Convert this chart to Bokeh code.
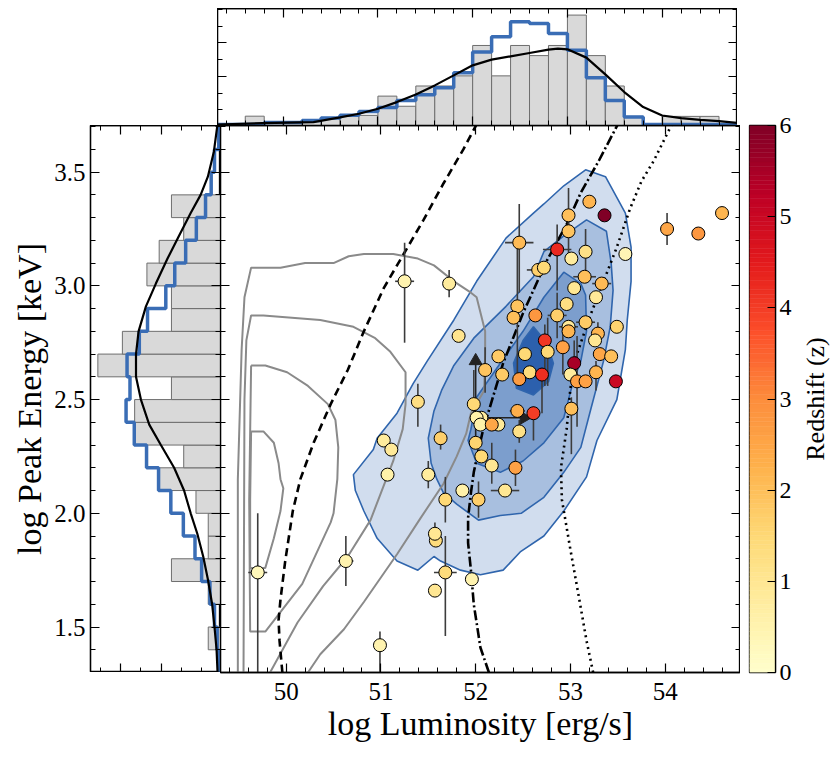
import numpy as np
from bokeh.plotting import figure
from bokeh.models import (Range1d, LinearAxis, FixedTicker, LinearColorMapper, Spacer,
                          ColumnDataSource, PrintfTickFormatter)
from bokeh.layouts import row, column
from bokeh.embed import file_html
from bokeh.resources import INLINE
from bokeh.palettes import YlOrRd9

FONT = "Liberation Serif"

# ---------------- scatter sample ----------------
lum = [49.70, 50.63, 50.99, 51.07, 51.50, 51.68, 51.58, 51.57, 51.68, 51.57,
       51.96, 51.86, 52.03, 52.31, 52.17, 52.42, 51.25, 51.72, 51.82, 51.39,
       51.03, 51.11, 51.63, 52.46, 52.98, 53.20, 53.36, 52.98, 52.86, 53.16,
       53.01, 53.58, 52.66, 52.72, 53.15, 53.33, 53.04, 53.27, 52.44, 52.96,
       52.40, 52.63, 52.86, 53.16, 53.49, 52.98, 52.98, 53.29, 53.26, 52.73,
       52.92, 52.76, 52.52, 52.24, 53.31, 53.43, 53.04, 52.10, 52.28, 52.57,
       52.70, 52.46, 53.00, 53.07, 53.16, 53.27, 53.48, 51.98, 52.06, 52.01,
       52.44, 52.61, 53.01, 52.05, 52.24, 52.17, 52.46, 52.00, 52.06, 54.02,
       54.35, 54.60]
epk = [1.74, 1.79, 1.42, 2.17, 2.17, 2.06, 1.88, 1.91, 1.74, 1.66,
       1.71, 2.10, 2.06, 2.10, 2.21, 2.20, 3.02, 3.01, 2.78, 2.49,
       2.32, 2.28, 2.33, 3.19, 3.31, 3.37, 3.31, 3.24, 3.16, 3.15,
       3.12, 3.14, 3.07, 3.08, 3.04, 3.01, 2.99, 2.95, 2.91, 2.92,
       2.86, 2.87, 2.87, 2.84, 2.82, 2.82, 2.80, 2.79, 2.76, 2.76,
       2.73, 2.71, 2.70, 2.69, 2.70, 2.69, 2.66, 2.63, 2.61, 2.62,
       2.61, 2.59, 2.61, 2.58, 2.58, 2.62, 2.58, 2.48, 2.42, 2.42,
       2.45, 2.44, 2.46, 2.39, 2.39, 2.39, 2.36, 2.31, 2.25, 3.25,
       3.23, 3.32]
zred = [0.3, 0.5, 0.5, 0.6, 0.8, 1.5, 1.4, 1.0, 1.4, 1.0,
        0.5, 0.6, 1.7, 1.0, 1.0, 2.6, 0.5, 0.8, 1.1, 1.3,
        0.8, 0.9, 1.7, 2.1, 2.0, 2.2, 6.0, 1.9, 4.3, 1.2,
        0.8, 0.4, 1.7, 1.5, 2.0, 2.1, 1.0, 0.9, 1.9, 1.3,
        2.0, 2.8, 1.7, 1.8, 1.6, 0.9, 2.2, 2.2, 1.0, 4.1,
        2.6, 1.5, 1.5, 1.8, 2.5, 2.0, 5.5, 1.9, 1.8, 1.4,
        4.2, 2.7, 0.8, 2.6, 2.6, 2.2, 5.0, 1.5, 0.8, 0.6,
        2.3, 4.0, 2.0, 0.6, 0.9, 2.5, 1.2, 1.6, 1.5, 2.5,
        2.8, 2.2]
lum_err = [0.10, 0.08, 0, 0, 0, 0, 0, 0, 0.12, 0,
           0, 0, 0, 0.15, 0, 0, 0.10, 0, 0, 0,
           0, 0, 0, 0.15, 0, 0, 0, 0, 0.15, 0,
           0, 0, 0.12, 0, 0.12, 0.10, 0, 0, 0, 0,
           0, 0, 0.10, 0.10, 0, 0.10, 0, 0, 0, 0,
           0, 0, 0, 0, 0, 0, 0, 0, 0, 0,
           0, 0, 0, 0, 0, 0, 0, 0, 0, 0,
           0.08, 0, 0, 0, 0, 0, 0, 0, 0, 0,
           0.06, 0]
epk_err_lo = [0.44, 0.11, 0.14, 0, 0.06, 0.10, 0, 0.05, 0.28, 0,
              0, 0, 0.08, 0, 0.08, 0.08, 0.27, 0.06, 0, 0.11,
              0, 0, 0.05, 0.22, 0.07, 0, 0, 0.10, 0.18, 0.10,
              0, 0, 0, 0, 0, 0, 0, 0, 0.30, 0,
              0, 0, 0.10, 0, 0, 0, 0, 0.05, 0, 0.20,
              0.12, 0.15, 0, 0, 0, 0, 0.10, 0.10, 0, 0,
              0.17, 0, 0, 0.20, 0, 0.08, 0, 0.05, 0, 0,
              0, 0.12, 0.20, 0, 0, 0, 0.05, 0, 0, 0.07,
              0, 0]
epk_err_hi = [0.26, 0.11, 0.06, 0, 0.06, 0.10, 0, 0.05, 0.16, 0,
              0, 0, 0.08, 0, 0.10, 0.08, 0.17, 0.06, 0, 0.08,
              0, 0, 0.06, 0.17, 0.12, 0, 0, 0.05, 0.11, 0.10,
              0, 0, 0, 0, 0, 0, 0, 0, 0.28, 0,
              0, 0, 0.10, 0, 0, 0, 0, 0.05, 0, 0.07,
              0.10, 0.15, 0, 0, 0, 0, 0.10, 0.10, 0, 0,
              0.03, 0, 0, 0.20, 0, 0.05, 0, 0.15, 0, 0,
              0, 0.03, 0.05, 0, 0, 0, 0.05, 0, 0, 0.07,
              0, 0]

# limits (arrows)
up_lim_x = [52.00]
up_lim_y0 = [2.31]
up_lim_y1 = [2.67]
right_lim_y = [2.42]
right_lim_x0 = [52.06]
right_lim_x1 = [52.51]

# ---------------- gray contours (comparison sample) ----------------
gc1_x = [49.49, 49.49, 49.53, 49.56, 49.63, 49.94, 50.20, 50.50, 50.66, 50.82, 51.13, 51.39, 51.56,
         51.77, 51.95, 52.01, 52.10, 52.10, 52.09, 51.95, 51.90, 51.80, 51.66, 51.42, 51.17, 50.82,
         50.61, 50.36, 50.23]
gc1_y = [1.30, 2.15, 2.72, 2.95, 3.08, 3.08, 3.10, 3.10, 3.13, 3.14, 3.14, 3.12, 3.09,
         3.02, 2.97, 2.95, 2.80, 2.70, 2.54, 2.44, 2.35, 2.25, 2.13, 1.98, 1.82, 1.61,
         1.49, 1.38, 1.30]
gc2_x = [49.55, 49.56, 49.58, 49.63, 49.76, 50.36, 50.71, 50.94, 51.10, 51.26, 51.26, 51.23, 51.13,
         50.89, 50.65, 50.39, 50.12, 49.83]
gc2_y = [1.30, 2.50, 2.76, 2.87, 2.87, 2.85, 2.82, 2.77, 2.71, 2.62, 2.48, 2.37, 2.23,
         1.97, 1.81, 1.68, 1.52, 1.30]
gc3_x = [49.63, 49.78, 50.01, 50.23, 50.44, 50.52, 50.55, 50.54, 50.50, 50.47, 50.17, 49.78, 49.62,
         49.61, 49.63]
gc3_y = [2.65, 2.65, 2.62, 2.56, 2.48, 2.41, 2.29, 2.15, 2.00, 1.96, 1.69, 1.48, 1.48,
         2.06, 2.65]
gc4_x = [49.63, 49.76, 49.87, 49.92, 49.94, 49.97, 49.94, 49.87, 49.78, 49.62, 49.62, 49.63]
gc4_y = [2.36, 2.36, 2.31, 2.22, 2.15, 2.11, 2.01, 1.89, 1.76, 1.76, 2.06, 2.36]

# ---------------- blue filled contours (main sample) ----------------
bc1_x = [50.71, 50.73, 50.82, 50.96, 51.17, 51.39, 51.56, 51.63, 51.84, 52.05, 52.29, 52.47, 52.72,
         52.93, 53.17, 53.28, 53.49, 53.58, 53.60, 53.64, 53.64, 53.58, 53.37, 53.16, 52.93, 52.72,
         52.61, 52.32, 52.01, 51.77, 51.49, 51.34, 51.17, 50.96, 50.92]
bc1_y = [2.17, 2.10, 2.01, 1.89, 1.79, 1.75, 1.81, 1.79, 1.75, 1.73, 1.75, 1.83, 1.90,
         2.01, 2.16, 2.32, 2.50, 2.72, 2.85, 3.02, 3.17, 3.32, 3.48, 3.51, 3.44, 3.36,
         3.32, 3.21, 3.02, 2.85, 2.67, 2.57, 2.44, 2.33, 2.28]
bc2_x = [51.50, 51.53, 51.59, 51.66, 51.80, 52.03, 52.26, 52.48, 52.72, 52.93, 53.11, 53.21, 53.35,
         53.42, 53.45, 53.43, 53.38, 53.17, 52.93, 52.72, 52.61, 52.32, 51.98, 51.77, 51.64, 51.56]
bc2_y = [2.33, 2.22, 2.15, 2.09, 2.04, 1.97, 1.99, 2.00, 2.07, 2.18, 2.29, 2.45, 2.67,
         2.82, 2.98, 3.10, 3.24, 3.29, 3.22, 3.15, 3.04, 2.91, 2.77, 2.65, 2.54, 2.45]
bc3_x = [51.95, 51.92, 52.01, 52.26, 52.50, 52.72, 52.93, 52.98, 53.03, 53.11, 53.17, 53.16, 53.11,
         52.93, 52.72, 52.50, 52.26, 52.01]
bc3_y = [2.37, 2.32, 2.22, 2.18, 2.23, 2.31, 2.42, 2.50, 2.58, 2.67, 2.80, 2.96, 3.01,
         3.06, 2.95, 2.80, 2.66, 2.51]
bc4_x = [52.40, 52.43, 52.61, 52.77, 52.82, 52.75, 52.61, 52.50]
bc4_y = [2.66, 2.55, 2.52, 2.58, 2.66, 2.75, 2.82, 2.76]

# ---------------- model curves ----------------
dash_x = [49.96, 49.93, 49.92, 49.94, 49.99, 50.07, 50.15, 50.29, 50.47, 50.65, 50.82, 51.03, 51.24,
          51.45, 51.66, 51.87, 52.01]
dash_y = [1.30, 1.44, 1.53, 1.62, 1.79, 2.01, 2.15, 2.31, 2.48, 2.63, 2.80, 2.99, 3.14,
          3.29, 3.45, 3.60, 3.71]
dashdot_x = [52.14, 52.05, 51.98, 51.95, 51.92, 51.92, 51.95, 51.98, 52.02, 52.08, 52.16, 52.29, 52.50,
             52.75, 52.96, 53.11, 53.30, 53.50]
dashdot_y = [1.30, 1.41, 1.60, 1.75, 1.87, 1.98, 2.09, 2.18, 2.26, 2.37, 2.48, 2.66, 2.88,
             3.11, 3.27, 3.41, 3.55, 3.71]
dot_x = [53.24, 53.17, 53.09, 53.00, 52.91, 52.90, 52.96, 53.00, 53.06, 53.21, 53.35, 53.49, 53.63,
         53.75, 53.88, 54.07]
dot_y = [1.30, 1.44, 1.63, 1.84, 2.06, 2.20, 2.37, 2.55, 2.69, 2.87, 3.02, 3.17, 3.34,
         3.46, 3.55, 3.71]

# ---------------- top histogram (luminosity) ----------------
top_gray_lo = [49.4, 49.6, 49.8, 50.0, 50.2, 50.4, 50.6, 50.8, 51.0, 51.2, 51.4, 51.6, 51.8, 52.0,
               52.2, 52.4, 52.6, 52.8, 53.0, 53.2, 53.4, 53.6, 53.8, 54.0, 54.2, 54.4, 54.6]
top_gray_val = [0, 0.92, 0.3, 0.3, 0.5, 0.7, 1.0, 1.0, 2.9, 1.9, 3.9, 3.9, 4.9, 7.9,
                4.9, 7.9, 6.9, 7.9, 10.9, 6.9, 3.9, 0.9, 0, 0.9, 0.9, 0.9, 0]
top_blue_lo = [49.2, 49.4, 49.6, 49.8, 50.0, 50.2, 50.4, 50.6, 50.8, 51.0, 51.2, 51.4, 51.6, 51.8,
               52.0, 52.2, 52.4, 52.6, 52.8, 53.0, 53.2, 53.4, 53.6, 53.8, 54.0, 54.2, 54.4, 54.6]
top_blue_val = [0.1, 0.1, 0.1, 0.3, 0.3, 0.5, 0.73, 1.0, 1.39, 1.78, 2.48, 3.04, 3.73, 5.21,
                7.26, 8.75, 10.23, 10.07, 9.08, 7.43, 4.72, 2.48, 0.83, 0.1, 0.1, 0.1, 0.1, 0.1]
top_kde_x = [49.30, 49.78, 50.32, 50.60, 50.80, 51.00, 51.20, 51.40, 51.60, 51.80, 52.00, 52.20, 52.40,
             52.60, 52.80, 52.90, 53.00, 53.20, 53.40, 53.60, 53.80, 54.00, 54.20, 54.40, 54.60, 54.79]
top_kde_y = [0.10, 0.23, 0.33, 0.80, 1.16, 1.65, 2.31, 3.07, 3.96, 4.95, 5.94, 6.50, 6.83,
             7.16, 7.49, 7.59, 7.52, 6.70, 5.05, 3.30, 1.82, 0.99, 0.73, 0.56, 0.43, 0.26]

# ---------------- left histogram (peak energy) ----------------
left_lo = [1.3, 1.4, 1.5, 1.6, 1.7, 1.8, 1.9, 2.0, 2.1, 2.2, 2.3, 2.4, 2.5, 2.6, 2.7, 2.8,
           2.9, 3.0, 3.1, 3.2, 3.3, 3.4, 3.5, 3.6]
left_gray_val = [0, 1, 0, 1, 4, 1, 1, 2, 5, 3, 7, 7, 4, 10, 8, 4, 4, 6, 5, 3, 4, 0, 0, 0]
left_blue_val = [0.14, 0.27, 0.49, 0.86, 1.54, 2.08, 3.03, 4.05, 5.05, 6.03, 7.03, 7.70, 7.38, 7.62,
                 6.62, 5.95, 4.46, 3.73, 2.84, 1.97, 1.22, 0.76, 0.49, 0.14]
left_kde_y = [1.30, 1.40, 1.50, 1.60, 1.71, 1.81, 1.91, 2.00, 2.10, 2.20, 2.30, 2.39, 2.50,
              2.60, 2.70, 2.80, 2.91, 3.01, 3.12, 3.22, 3.32, 3.40, 3.48, 3.59, 3.70]
left_kde_x = [0.24, 0.32, 0.49, 0.68, 1.03, 1.41, 1.89, 2.43, 2.97, 3.78, 4.86, 5.81, 6.49,
              6.89, 6.89, 6.68, 6.08, 5.27, 4.32, 3.38, 2.43, 1.62, 1.03, 0.54, 0.27]

# ---------------- ticks ----------------
x_major = [50, 51, 52, 53, 54]
x_minor = [round(49.4 + 0.2 * i, 2) for i in range(28)]
y_major = [1.5, 2.0, 2.5, 3.0, 3.5]
y_minor = [round(1.3 + 0.1 * i, 2) for i in range(25)]
h_major = [4.85, 8.15]
h_minor = [1.55, 3.2, 6.5, 9.8, 11.45]
z_ticks = [0, 1, 2, 3, 4, 5, 6]

BIN_X = 0.2
BIN_Y = 0.1

# ---------------- colours ----------------
def interp_palette(cols, n):
    rgb = np.array([[int(c[i:i + 2], 16) for i in (1, 3, 5)] for c in cols], float)
    out = []
    for v in np.linspace(0, len(cols) - 1, n):
        i = min(int(np.floor(v)), len(cols) - 2)
        f = v - i
        c = rgb[i] * (1 - f) + rgb[i + 1] * f
        out.append('#%02x%02x%02x' % tuple(int(round(a)) for a in c))
    return out

pal = interp_palette(list(reversed(YlOrRd9)), 256)
mapper = LinearColorMapper(palette=pal, low=0, high=6)

BLUE = "#3a6db5"
GRAYFILL = "#d9d9d9"
GRAYEDGE = "#6e6e6e"


def style_axis(ax, ticks, minor, label_size=None, standoff=5, fmt=None, major_len=9, minor_len=5):
    ax.ticker = FixedTicker(ticks=list(ticks), minor_ticks=list(minor))
    ax.major_tick_in = major_len
    ax.major_tick_out = 0
    ax.minor_tick_in = minor_len
    ax.minor_tick_out = 0
    ax.major_tick_line_color = "black"
    ax.minor_tick_line_color = "black"
    ax.major_tick_line_width = 1.2
    ax.minor_tick_line_width = 1.0
    ax.axis_line_color = "black"
    ax.axis_line_width = 1.3
    if label_size:
        ax.major_label_text_font = FONT
        ax.major_label_text_font_size = label_size
        ax.major_label_text_color = "black"
        ax.major_label_standoff = standoff
        if fmt:
            ax.formatter = PrintfTickFormatter(format=fmt)
    else:
        ax.major_label_text_font_size = "0px"
        ax.major_label_text_color = None
        ax.major_label_standoff = 0


def axis_title(ax, text, size, standoff):
    ax.axis_label = text
    ax.axis_label_text_font = FONT
    ax.axis_label_text_font_size = size
    ax.axis_label_text_font_style = "normal"
    ax.axis_label_text_color = "black"
    ax.axis_label_standoff = standoff


def make_fig(xr, yr, fw, fh, **kw):
    p = figure(x_range=xr, y_range=yr, frame_width=fw, frame_height=fh,
               output_backend="svg", toolbar_location=None, min_border=0, **kw)
    p.grid.visible = False
    p.outline_line_color = "black"
    p.outline_line_width = 1.3
    p.background_fill_color = "white"
    p.border_fill_color = "white"
    return p


def stairs_vertical(lo, vals, w):
    xs, ys = [], []
    for l, v in zip(lo, vals):
        xs += [v, v]
        ys += [l, l + w]
    return xs, ys


def stairs_horizontal(lo, vals, w):
    xs, ys = [], []
    for l, v in zip(lo, vals):
        xs += [l, l + w]
        ys += [v, v]
    return xs, ys


xr = Range1d(49.307, 54.795)
yr = Range1d(1.30, 3.705)

# ================= main panel =================
main = make_fig(xr, yr, 520, 547)
style_axis(main.xaxis[0], x_major, x_minor, "25px", 10, "%d")
axis_title(main.xaxis[0], "log Luminosity [erg/s]", "34px", 2)
style_axis(main.yaxis[0], y_major, y_minor)
a = LinearAxis(); main.add_layout(a, "above"); style_axis(a, x_major, x_minor)
a = LinearAxis(); main.add_layout(a, "right"); style_axis(a, y_major, y_minor)

for cx, cy, fc in [(bc1_x, bc1_y, "#d1ddee"), (bc2_x, bc2_y, "#a8bfdf"),
                   (bc3_x, bc3_y, "#7c9ecd"), (bc4_x, bc4_y, "#2c60ad")]:
    main.patch(cx, cy, fill_color=fc, line_color="#2f65ad", line_width=1.6)

for cx, cy in [(gc1_x, gc1_y), (gc2_x, gc2_y), (gc3_x, gc3_y), (gc4_x, gc4_y)]:
    main.line(cx, cy, line_color="#8a8a8a", line_width=2)

main.line(dash_x, dash_y, line_color="black", line_width=2.6, line_dash="8 5")
main.line(dashdot_x, dashdot_y, line_color="black", line_width=2.6, line_dash="10 3 2 3")
main.line(dot_x, dot_y, line_color="black", line_width=2.6, line_dash="2 4")

L = np.array(lum); E = np.array(epk)
xe = np.array(lum_err); yl = np.array(epk_err_lo); yh = np.array(epk_err_hi)
mx = xe > 0
my = (yl > 0) | (yh > 0)
main.segment(L[mx] - xe[mx], E[mx], L[mx] + xe[mx], E[mx], line_color="#3c3c3c", line_width=1.6)
main.segment(L[my], E[my] - yl[my], L[my], E[my] + yh[my], line_color="#3c3c3c", line_width=1.6)

main.segment(up_lim_x, up_lim_y0, up_lim_x, up_lim_y1, line_color="#222222", line_width=1.6)
main.scatter(up_lim_x, up_lim_y1, marker="triangle", size=13, fill_color="#222222", line_color="#222222")
main.segment(right_lim_x0, right_lim_y, right_lim_x1, right_lim_y, line_color="#222222", line_width=1.6)
main.scatter(right_lim_x1, right_lim_y, marker="triangle", size=13, angle=-np.pi / 2,
             fill_color="#222222", line_color="#222222")

src = ColumnDataSource(dict(x=lum, y=epk, z=zred))
main.scatter("x", "y", source=src, size=13, fill_color={"field": "z", "transform": mapper},
             line_color="black", line_width=1)

# ================= top histogram =================
top = make_fig(xr, Range1d(0, 11.55), 520, 117)
style_axis(top.xaxis[0], x_major, x_minor)
style_axis(top.yaxis[0], h_major, h_minor)
a = LinearAxis(); top.add_layout(a, "above"); style_axis(a, x_major, x_minor)
a = LinearAxis(); top.add_layout(a, "right"); style_axis(a, h_major, h_minor)
tg_lo = np.array(top_gray_lo)
top.quad(left=tg_lo, right=tg_lo + BIN_X, bottom=0, top=top_gray_val,
         fill_color=GRAYFILL, line_color=GRAYEDGE, line_width=1)
sx, sy = stairs_horizontal(top_blue_lo, top_blue_val, BIN_X)
top.line(sx, sy, line_color=BLUE, line_width=3.5)
top.line(top_kde_x, top_kde_y, line_color="black", line_width=2.2)

# ================= left histogram =================
left = make_fig(Range1d(10.6, 0), yr, 130, 547, min_border_left=79)
style_axis(left.yaxis[0], y_major, y_minor, "25px", 5, "%.1f")
axis_title(left.yaxis[0], "log Peak Energy [keV]", "34px", 3)
style_axis(left.xaxis[0], h_major, h_minor)
a = LinearAxis(); left.add_layout(a, "above"); style_axis(a, h_major, h_minor)
a = LinearAxis(); left.add_layout(a, "right"); style_axis(a, y_major, y_minor)
ll = np.array(left_lo)
left.quad(left=0, right=left_gray_val, bottom=ll, top=ll + BIN_Y,
          fill_color=GRAYFILL, line_color=GRAYEDGE, line_width=1)
sx, sy = stairs_vertical(left_lo, left_blue_val, BIN_Y)
left.line(sx, sy, line_color=BLUE, line_width=3.5)
left.line(left_kde_x, left_kde_y, line_color="black", line_width=2.2)

# ================= colour bar =================
PAD = 14
cb = make_fig(Range1d(0, 1), Range1d(0, 6), 26, 547, y_axis_location="right",
              min_border_left=9, min_border_top=PAD, min_border_bottom=PAD)
cb.xaxis.visible = False
style_axis(cb.yaxis[0], z_ticks, [], "24px", 4, "%d", major_len=8)
lev = np.linspace(0, 6, 121)
cb_src = ColumnDataSource(dict(b=lev[:-1], t=lev[1:], m=(lev[:-1] + lev[1:]) / 2))
cb.quad(left=0, right=1, bottom="b", top="t", source=cb_src,
        fill_color={"field": "m", "transform": mapper},
        line_color={"field": "m", "transform": mapper}, line_width=0.5)

lab = make_fig(Range1d(0, 1), Range1d(0, 1), 1, 547, min_border_left=35,
               min_border_top=PAD, min_border_bottom=PAD)
lab.outline_line_color = None
lab.xaxis.visible = False
ay = lab.yaxis[0]
ay.ticker = FixedTicker(ticks=[])
ay.major_label_text_font_size = "0px"
ay.major_label_text_color = None
ay.major_tick_in = 0; ay.major_tick_out = 0
ay.minor_tick_in = 0; ay.minor_tick_out = 0
ay.axis_line_color = None
axis_title(ay, "Redshift (z)", "26px", 0)

body = column(row(Spacer(width=209, height=117), top),
              row(left, main))
side = column(Spacer(width=1, height=117 - PAD), row(cb, lab))
layout = column(Spacer(width=1, height=8),
                row(Spacer(width=8, height=1), body, side))

open("out.html", "w").write(file_html(layout, INLINE))
